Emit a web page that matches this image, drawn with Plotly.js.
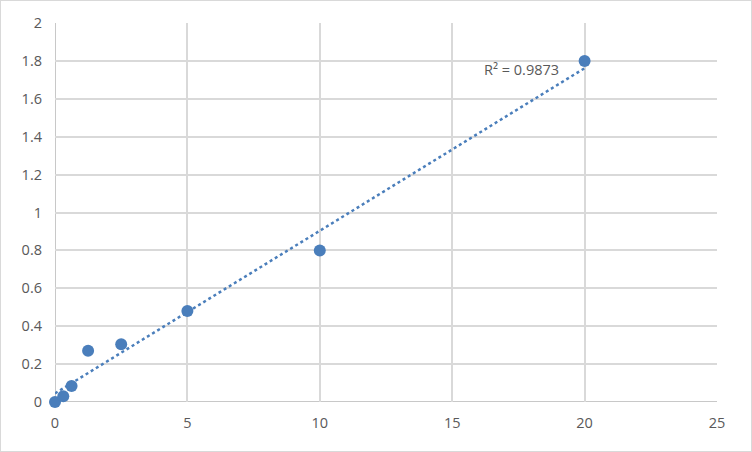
<!DOCTYPE html>
<html>
<head>
<meta charset="utf-8">
<script src="https://cdn.plot.ly/plotly-3.0.1.min.js"></script>
<style>
html,body{margin:0;padding:0;background:#fff;}
#wrap{position:relative;width:752px;height:452px;}
#chart{width:752px;height:452px;}
#frame{position:absolute;left:0;top:0;width:750px;height:450px;border:1px solid #d9d9d9;pointer-events:none;}
</style>
</head>
<body>
<div id="wrap"><div id="chart"></div><div id="frame"></div></div>
<script>
const concentration = [0, 0.3125, 0.625, 1.25, 2.5, 5, 10, 20];
const absorbance = [0, 0.03, 0.085, 0.27, 0.305, 0.48, 0.8, 1.8];
const r2Label = "R² = 0.9873";

// least-squares linear trendline
const n = concentration.length;
const mx = concentration.reduce((a,b)=>a+b,0)/n;
const my = absorbance.reduce((a,b)=>a+b,0)/n;
let sxy=0, sxx=0;
for (let i=0;i<n;i++){ sxy += (concentration[i]-mx)*(absorbance[i]-my); sxx += (concentration[i]-mx)**2; }
const slope = sxy/sxx, intercept = my - slope*mx;
const xMin = Math.min(...concentration), xMax = Math.max(...concentration);
const trendX = [xMin, xMax];
const trendY = trendX.map(x => intercept + slope*x);

const color = '#4a7ebb';
const data = [
  {x: trendX, y: trendY, mode: 'lines', type: 'scatter', cliponaxis: false,
   line: {color: color, width: 2.5, dash: 'dot'}, hoverinfo: 'skip'},
  {x: concentration, y: absorbance, mode: 'markers', type: 'scatter', cliponaxis: false,
   marker: {color: color, size: 12}}
];
const axisFont = {family: 'Open Sans, Liberation Sans, sans-serif', size: 14.5, color: '#595959'};
const layout = {
  width: 752, height: 452,
  margin: {l: 55, r: 35, t: 23, b: 50},
  showlegend: false,
  paper_bgcolor: '#fff', plot_bgcolor: '#fff',
  xaxis: {range: [0, 25], dtick: 5, tick0: 0, showgrid: true, gridcolor: '#d9d9d9', gridwidth: 2,
          zeroline: false, showline: false, ticks: '', tickfont: axisFont, fixedrange: true,
          ticklabelstandoff: 10},
  yaxis: {range: [0, 2], dtick: 0.2, tick0: 0, showgrid: true, gridcolor: '#d9d9d9', gridwidth: 2,
          zeroline: false, showline: false, ticks: '', tickfont: axisFont, fixedrange: true,
          ticklabelstandoff: 12},
  shapes: [
    {type: 'line', xref: 'x', yref: 'paper', x0: 0, x1: 0, y0: 0, y1: 1, layer: 'below', line: {color: '#c8c8c8', width: 2}},
    {type: 'line', xref: 'paper', yref: 'y', x0: 0, x1: 1, y0: 0, y1: 0, layer: 'below', line: {color: '#c8c8c8', width: 2}}
  ],
  annotations: [
    {x: 17.6, y: 1.755, xref: 'x', yref: 'y', text: r2Label, showarrow: false,
     font: {family: 'Open Sans, Liberation Sans, sans-serif', size: 14.5, color: '#595959'}}
  ]
};
Plotly.newPlot('chart', data, layout, {displayModeBar: false, staticPlot: true});
</script>
</body>
</html>
